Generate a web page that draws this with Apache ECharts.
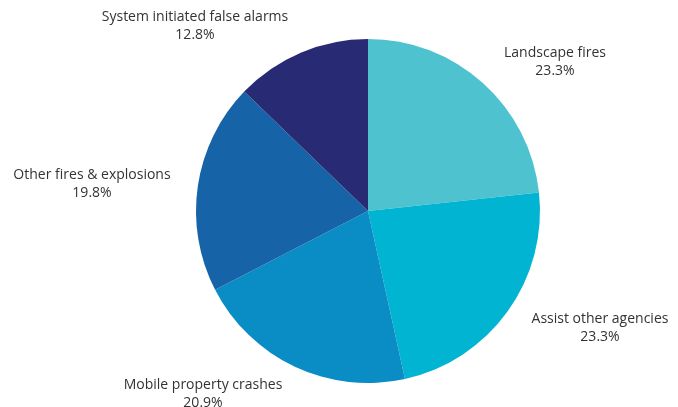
<!DOCTYPE html>
<html>
<head>
<meta charset="utf-8">
<script src="https://cdn.jsdelivr.net/npm/echarts@6/dist/echarts.min.js"></script>
<style>html,body{margin:0;padding:0;background:#fff}#c{width:678px;height:407px}</style>
</head>
<body>
<div id="c"></div>
<script>
var categories = ['Landscape fires', 'Assist other agencies', 'Mobile property crashes', 'Other fires & explosions', 'System initiated false alarms'];
var values = [23.3, 23.3, 20.9, 19.8, 12.8];
var colors = ['#4fc2cf', '#00b4d2', '#0a8cc4', '#1763a7', '#282a73'];
// label anchor positions (layout styling)
var labelPos = [[555, 62], [600, 328], [203, 394], [92, 184], [195, 26]];

var chart = echarts.init(document.getElementById('c'));
chart.setOption({
  animation: false,
  series: [{
    type: 'pie',
    center: [368, 211],
    radius: [0, 172],
    startAngle: 90,
    clockwise: true,
    data: categories.map(function (n, i) { return { name: n, value: values[i], itemStyle: { color: colors[i] } }; }),
    itemStyle: { borderWidth: 0 },
    label: {
      show: true,
      position: 'outside',
      formatter: function (p) { return p.name + '\n' + p.value.toFixed(1) + '%'; },
      fontFamily: 'Open Sans',
      fontSize: 14,
      lineHeight: 18,
      color: '#333',
      align: 'center',
      overflow: 'none',
      width: 300
    },
    labelLine: { show: false },
    labelLayout: function (p) {
      var pos = labelPos[p.dataIndex];
      return { x: pos[0], y: pos[1], align: 'center', verticalAlign: 'middle' };
    }
  }]
});
</script>
</body>
</html>
